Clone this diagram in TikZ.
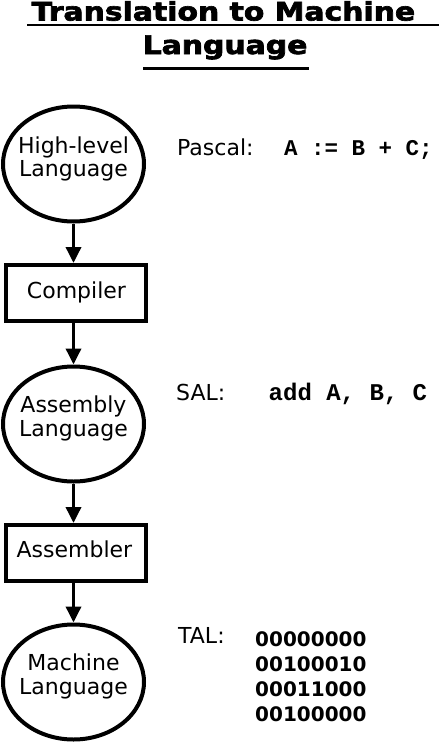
\documentclass[tikz,border=0pt]{standalone}
\usepackage{fontspec}
\usepackage{graphicx}
\setmainfont{DejaVu Sans}
\newfontfamily\codefont{Liberation Mono}
\newfontfamily\titlefont[BoldFeatures={FakeBold=2.5}]{DejaVu Sans}
\usetikzlibrary{shapes.geometric,arrows.meta}
\tikzset{
  lbl/.style={font=\fontsize{22}{24}\selectfont, inner sep=0pt, anchor=base},
  side/.style={font=\fontsize{22}{24}\selectfont, inner sep=0pt, anchor=base west},
  code/.style={font=\codefont\bfseries\fontsize{24}{26}\selectfont, inner sep=0pt, anchor=base west},
  bits/.style={font=\bfseries\fontsize{20}{22}\selectfont, inner sep=0pt, anchor=base west},
  ttl/.style={font=\titlefont\bfseries\fontsize{25.5}{28}\selectfont, inner sep=0pt, anchor=base west},
  oval/.style={ellipse, draw, line width=4pt, minimum width=141pt, minimum height=115pt, inner sep=0pt},
  procbox/.style={rectangle, draw, line width=4pt, minimum width=140pt, minimum height=56pt, inner sep=0pt},
  flow/.style={line width=3.5pt, -{Triangle[width=15pt,length=16pt]}},
  uline/.style={line width=2.5pt}
}
\begin{document}
\begin{tikzpicture}[x=1pt,y=-1pt]
\useasboundingbox (0,0) rectangle (439,742);
% title
\node[ttl] (t1) at (31.5,20.5) {\scalebox{1.17}[1]{Translation to Machine}};
\node[ttl] (t2) at (142.5,54) {\scalebox{1.17}[1]{Language}};
\draw[uline] (27,25) -- (439,25);
\draw[uline] (143,68.5) -- (309,68.5);
% shapes
\node[oval] (e1) at (73.5,164) {};
\node[procbox] (b1) at (75.5,293) {};
\node[oval] (e2) at (73.5,424) {};
\node[procbox] (b2) at (75.5,553) {};
\node[oval] (e3) at (73.5,682) {};
% labels in shapes
\node[lbl] (e1a) at (73.5,153) {High-level};
\node[lbl] (e1b) at (73.5,176) {Language};
\node[lbl] (b1t) at (76.5,298) {Compiler};
\node[lbl] (e2a) at (73.5,412) {Assembly};
\node[lbl] (e2b) at (73.5,436) {Language};
\node[lbl] (b2t) at (74.5,557) {Assembler};
\node[lbl] (e3a) at (73.5,670) {Machine};
\node[lbl] (e3b) at (73.5,694) {Language};
% connectors
\draw[flow] (e1.south) -- (e1.south |- b1.north);
\draw[flow] (e1.south |- b1.south) -- (e2.north);
\draw[flow] (e2.south) -- (e2.south |- b2.north);
\draw[flow] (e2.south |- b2.south) -- (e3.north);
% side texts
\node[side] (p1) at (177,155) {Pascal:};
\node[code, font=\codefont\bfseries\fontsize{22.5}{24}\selectfont] (p2) at (284,155) {A := B + C;};
\node[side] (s1) at (176,400) {SAL:};
\node[code] (s2) at (268.5,400) {add A, B, C};
\node[side] (m1) at (178,643) {TAL:};
\node[bits] (m2) at (255,646) {00000000};
\node[bits] (m3) at (255,671) {00100010};
\node[bits] (m4) at (255,696) {00011000};
\node[bits] (m5) at (255,721) {00100000};
\end{tikzpicture}
\end{document}
